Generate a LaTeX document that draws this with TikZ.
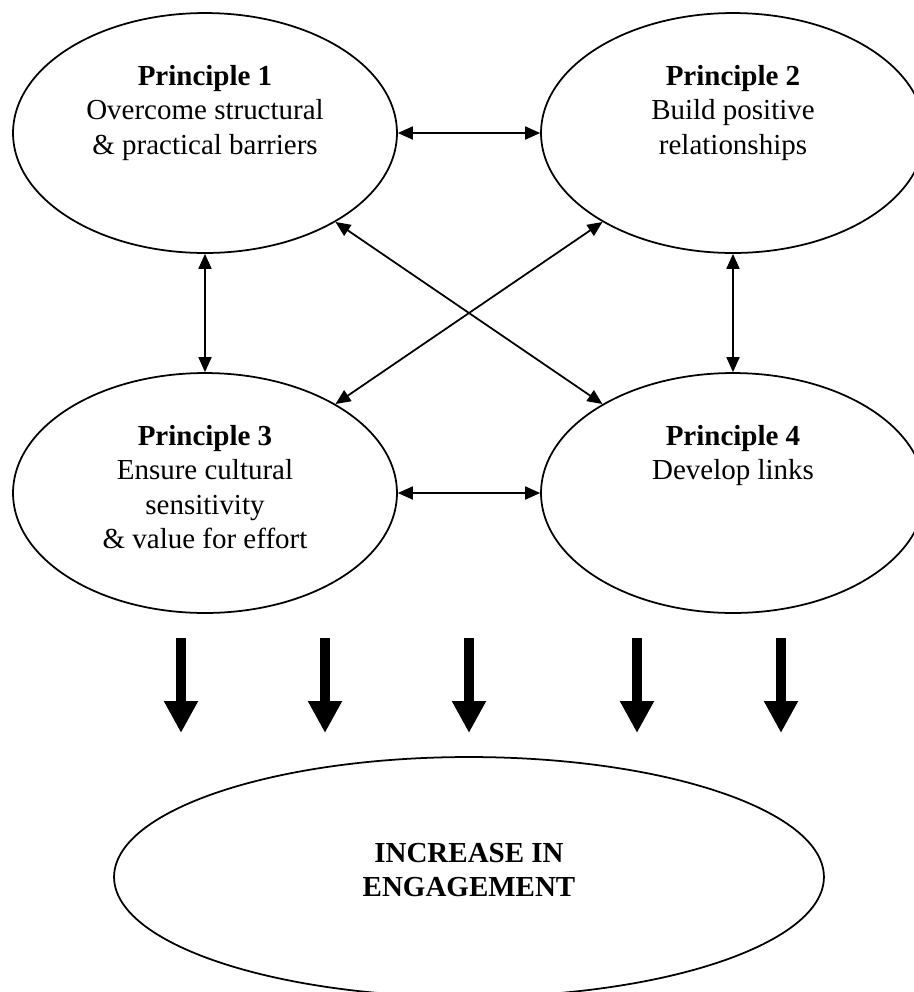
\documentclass[tikz,border=0pt]{standalone}
\usepackage{fontspec}
\setmainfont{Liberation Serif}
\usetikzlibrary{arrows.meta,shapes.geometric}

\newcommand{\ptext}[2]{%
  \begin{minipage}[c][2.72cm][t]{5.2cm}\centering\textbf{#1}\\#2\end{minipage}}

\begin{document}
\begin{tikzpicture}[x=0.02cm, y=-0.02cm,
    principle/.style={ellipse, draw, line width=1pt, inner sep=0pt,
                      minimum width=7.68cm, minimum height=4.8cm,
                      font=\fontsize{16.5}{19.6}\selectfont},
    outcome/.style={ellipse, draw, line width=1pt, inner sep=0pt,
                    minimum width=14.2cm, minimum height=4.8cm, align=center,
                    text depth=0.28cm, font=\fontsize{16.5}{19.6}\selectfont\bfseries},
    link/.style={{Triangle[length=3mm,width=2.6mm]}-{Triangle[length=3mm,width=2.6mm]},
                 line width=1pt},
    push/.style={-{Triangle[length=6.4mm,width=6.4mm]}, line width=2mm}
  ]
  \clip (0,0) rectangle (914,992);
  \node[principle] (p1) at (205,133) {\ptext{Principle 1}{Overcome structural\\\& practical barriers}};
  \node[principle] (p2) at (733,133) {\ptext{Principle 2}{Build positive\\relationships}};
  \node[principle] (p3) at (205,493) {\ptext{Principle 3}{Ensure cultural\\sensitivity\\\& value for effort}};
  \node[principle] (p4) at (733,493) {\ptext{Principle 4}{Develop links}};
  \node[outcome] (eng) at (469,877) {INCREASE IN\\ENGAGEMENT};

  \draw[link] (p1) -- (p2);
  \draw[link] (p3) -- (p4);
  \draw[link] (p1) -- (p3);
  \draw[link] (p2) -- (p4);
  \draw[link] (p1) -- (p4);
  \draw[link] (p2) -- (p3);

  \foreach \x [count=\i] in {181,325,469,637,781} {
    \coordinate (top\i) at (\x,638);
    \coordinate (tip\i) at (\x,733);
    \draw[push] (top\i) -- (tip\i);
  }
\end{tikzpicture}
\end{document}
